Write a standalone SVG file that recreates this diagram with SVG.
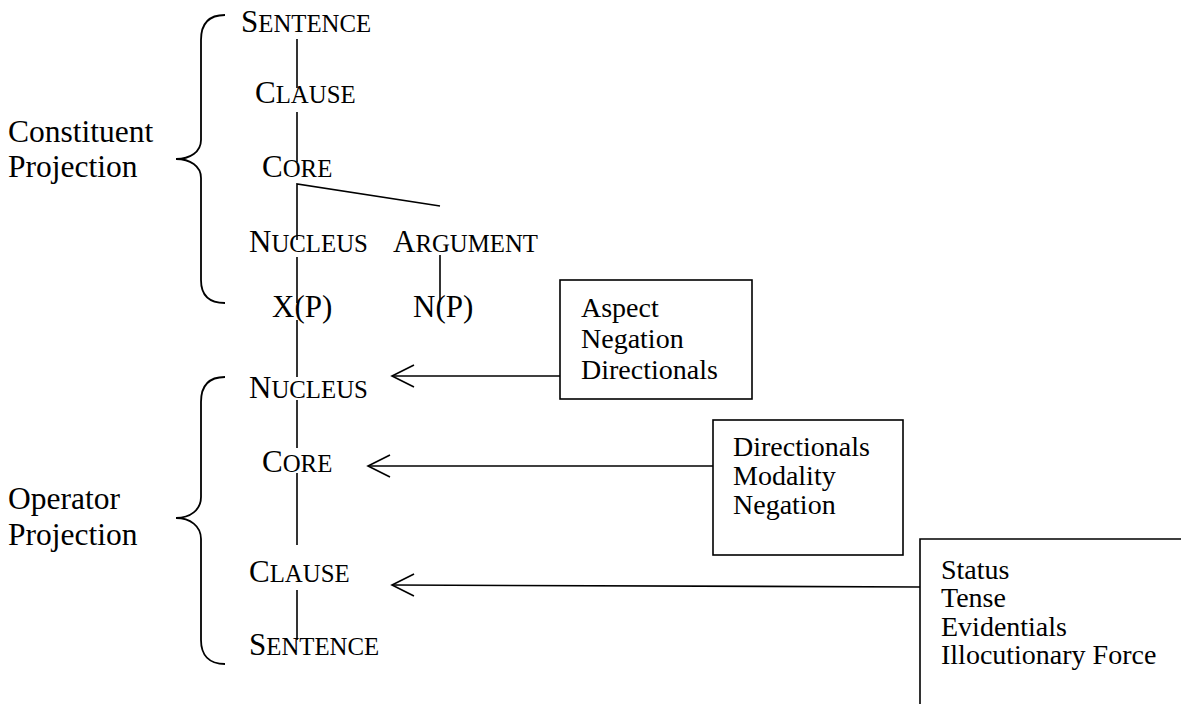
<svg xmlns="http://www.w3.org/2000/svg" width="1181" height="704" viewBox="0 0 1181 704">
<style>
text{font-family:"Liberation Serif","Times New Roman",serif;fill:#000}
.lbl{font-size:31.5px}
.sc{font-size:31px}
.sc tspan.s{font-size:24.8px}
.box{font-size:28px}
.ln{stroke:#000;stroke-width:1.6;fill:none}
.br{stroke:#000;stroke-width:1.8;fill:none}
</style>
<defs>
<marker id="ah" markerUnits="userSpaceOnUse" markerWidth="30" markerHeight="30" refX="0" refY="0" orient="auto" viewBox="-25 -15 30 30" overflow="visible">
<path d="M-22,-11 L0,0 L-22,11" stroke="#000" stroke-width="1.6" fill="none"/>
</marker>
</defs>
<rect width="1181" height="704" fill="#fff"/>
<g id="braces">
<path class="br" d="M225,15 C209,15 201,24 201,40 L201,140 C201,152 190,159 176,159 C190,159 201,166 201,178 L201,280 C201,295 209,303 225,303"/>
<path class="br" d="M225,377 C209,377 201,386 201,402 L201,497 C201,510 190,518 176,518 C190,518 201,526 201,539 L201,640 C201,655 209,664 225,664"/>
</g>
<g id="side-labels">
<text class="lbl" x="8" y="142">Constituent</text>
<text class="lbl" x="8" y="177">Projection</text>
<text class="lbl" x="8" y="509">Operator</text>
<text class="lbl" x="8" y="545">Projection</text>
</g>
<g id="connectors">
<line class="ln" x1="297" y1="39" x2="297" y2="88"/>
<line class="ln" x1="297" y1="112" x2="297" y2="162"/>
<polyline class="ln" points="440,206 297,184 297,240"/>
<line class="ln" x1="297" y1="257" x2="297" y2="303"/>
<line class="ln" x1="297" y1="320" x2="297" y2="377"/>
<line class="ln" x1="297" y1="400" x2="297" y2="448"/>
<line class="ln" x1="297" y1="473" x2="297" y2="545"/>
<line class="ln" x1="297" y1="590" x2="297" y2="640"/>
<line class="ln" x1="440" y1="255" x2="440" y2="302"/>
<line class="ln" x1="560" y1="376" x2="392" y2="376" marker-end="url(#ah)"/>
<line class="ln" x1="713" y1="466" x2="368" y2="466" marker-end="url(#ah)"/>
<line class="ln" x1="920" y1="587" x2="392" y2="585" marker-end="url(#ah)"/>
</g>
<g id="n-sentence-top"><text class="sc" x="241" y="32">S<tspan class="s">ENTENCE</tspan></text></g>
<g id="n-clause-top"><text class="sc" x="255" y="103">C<tspan class="s">LAUSE</tspan></text></g>
<g id="n-core-top"><text class="sc" x="262" y="177">C<tspan class="s">ORE</tspan></text></g>
<g id="n-nucleus-top"><text class="sc" x="249" y="252">N<tspan class="s">UCLEUS</tspan></text></g>
<g id="n-argument"><text class="sc" x="393" y="252">A<tspan class="s">RGUMENT</tspan></text></g>
<g id="n-xp"><text class="sc" x="272" y="317">X(P)</text></g>
<g id="n-np"><text class="sc" x="413" y="317">N(P)</text></g>
<g id="n-nucleus-op"><text class="sc" x="249" y="398">N<tspan class="s">UCLEUS</tspan></text></g>
<g id="n-core-op"><text class="sc" x="262" y="472">C<tspan class="s">ORE</tspan></text></g>
<g id="n-clause-op"><text class="sc" x="249" y="582">C<tspan class="s">LAUSE</tspan></text></g>
<g id="n-sentence-op"><text class="sc" x="249" y="655">S<tspan class="s">ENTENCE</tspan></text></g>
<g id="box-nucleus-ops">
<rect class="ln" x="560" y="280" width="192" height="119"/>
<text class="box" x="581" y="317">Aspect</text>
<text class="box" x="581" y="348">Negation</text>
<text class="box" x="581" y="379">Directionals</text>
</g>
<g id="box-core-ops">
<rect class="ln" x="713" y="420" width="190" height="135"/>
<text class="box" x="733" y="456">Directionals</text>
<text class="box" x="733" y="485">Modality</text>
<text class="box" x="733" y="514">Negation</text>
</g>
<g id="box-clause-ops">
<path class="ln" d="M1181,539 L920,539 L920,704"/>
<text class="box" x="941" y="579">Status</text>
<text class="box" x="941" y="607">Tense</text>
<text class="box" x="941" y="636">Evidentials</text>
<text class="box" x="941" y="664">Illocutionary Force</text>
</g>
</svg>
